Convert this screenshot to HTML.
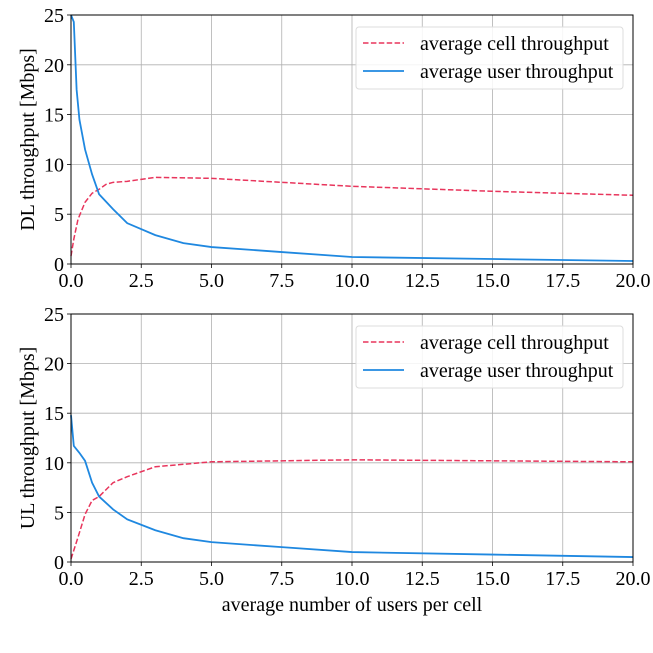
<!DOCTYPE html>
<html><head><meta charset="utf-8"><style>
html,body{margin:0;padding:0;background:#fff;}
svg{display:block;font-family:"Liberation Serif",serif;}
</style></head><body>
<svg id="c" width="653" height="653" viewBox="0 0 653 653"></svg>
<script>
const xTicks=[0,2.5,5,7.5,10,12.5,15,17.5,20];
const xTickLabels=["0.0","2.5","5.0","7.5","10.0","12.5","15.0","17.5","20.0"];
const yTicks=[0,5,10,15,20,25];
const yTickLabels=["0","5","10","15","20","25"];
const dlUserX=[0,0.1,0.2,0.3,0.5,0.75,1,1.5,2,3,4,5,7.5,10,15,20];
const dlUserY=[25,24.3,17.5,14.5,11.5,9,7,5.5,4.1,2.9,2.1,1.7,1.2,0.7,0.5,0.3];
const dlCellX=[0,0.1,0.25,0.5,0.75,1,1.25,1.5,2,2.5,3,5,7.5,10,15,20];
const dlCellY=[0.8,2.5,4.5,6.2,7.1,7.5,8,8.2,8.3,8.5,8.7,8.6,8.2,7.8,7.3,6.9];
const ulUserX=[0,0.1,0.3,0.5,0.75,1,1.5,2,3,4,5,7.5,10,15,20];
const ulUserY=[14.8,11.7,11,10.2,8,6.6,5.3,4.3,3.2,2.4,2,1.5,1,0.75,0.5];
const ulCellX=[0,0.25,0.5,0.75,1,1.5,2,3,5,10,15,20];
const ulCellY=[0.3,2.5,4.8,6.2,6.6,8,8.6,9.6,10.1,10.3,10.2,10.1];

const NS="http://www.w3.org/2000/svg";
const svg=document.getElementById('c');
function mk(t,a,p){const e=document.createElementNS(NS,t);for(const k in a)e.setAttribute(k,a[k]);(p||svg).appendChild(e);return e;}
const X0=71,X1=633;
function sx(v){return X0+(v-0)/(20-0)*(X1-X0);}
function panel(top,bot,ylabel,cx,cy,ux,uy,pname){
  const g=mk('g',{});
  
  
  const sy=v=>bot-(v/25)*(bot-top);
  xTicks.forEach((t,i)=>{
    const l=mk('line',{x1:sx(t),x2:sx(t),y1:top,y2:bot,stroke:'#b0b0b0','stroke-width':0.8},g);
    
    mk('line',{x1:sx(t),x2:sx(t),y1:bot,y2:bot+4,stroke:'#000','stroke-width':0.8},g);
    const tx=mk('text',{x:sx(t),y:bot+23,'text-anchor':'middle','font-size':20},g);
    tx.textContent=xTickLabels[i];
    
  });
  yTicks.forEach((t,i)=>{
    const l=mk('line',{x1:X0,x2:X1,y1:sy(t),y2:sy(t),stroke:'#b0b0b0','stroke-width':0.8},g);
    
    mk('line',{x1:X0-4,x2:X0,y1:sy(t),y2:sy(t),stroke:'#000','stroke-width':0.8},g);
    const tx=mk('text',{x:X0-7,y:sy(t)+7,'text-anchor':'end','font-size':20},g);
    tx.textContent=yTickLabels[i];
    
  });
  const pc=mk('polyline',{points:cx.map((v,i)=>sx(v)+','+sy(cy[i])).join(' '),fill:'none',stroke:'#e8355c','stroke-width':1.5,'stroke-dasharray':'5.5,2.4'},g);
  
  const pu=mk('polyline',{points:ux.map((v,i)=>sx(v)+','+sy(uy[i])).join(' '),fill:'none',stroke:'#1f88e0','stroke-width':1.8},g);
  
  const fr=mk('rect',{x:X0,y:top,width:X1-X0,height:bot-top,fill:'none',stroke:'#000','stroke-width':1},g);
  
  const yl=mk('text',{x:0,y:0,'text-anchor':'middle','font-size':20,transform:`translate(34,${(top+bot)/2}) rotate(-90)`},g);
  yl.textContent=ylabel;
  
  const lg=mk('g',{},g);
  
  mk('rect',{x:356,y:top+12,width:267,height:62,rx:3,fill:'#fff','fill-opacity':0.85,stroke:'#dcdcdc','stroke-width':1},lg);
  mk('line',{x1:363,x2:404,y1:top+28,y2:top+28,stroke:'#e8355c','stroke-width':1.5,'stroke-dasharray':'5.5,2.4'},lg);
  mk('line',{x1:363,x2:404,y1:top+56,y2:top+56,stroke:'#1f88e0','stroke-width':1.8},lg);
  const t1=mk('text',{x:420,y:top+35,'font-size':20},lg);t1.textContent='average cell throughput';
  
  const t2=mk('text',{x:420,y:top+63,'font-size':20},lg);t2.textContent='average user throughput';
  
}
panel(15,264,'DL throughput [Mbps]',dlCellX,dlCellY,dlUserX,dlUserY,'dl-panel');
panel(314,562,'UL throughput [Mbps]',ulCellX,ulCellY,ulUserX,ulUserY,'ul-panel');
const xl=mk('text',{x:352,y:611,'text-anchor':'middle','font-size':20});
xl.textContent='average number of users per cell';


</script>
</body></html>
